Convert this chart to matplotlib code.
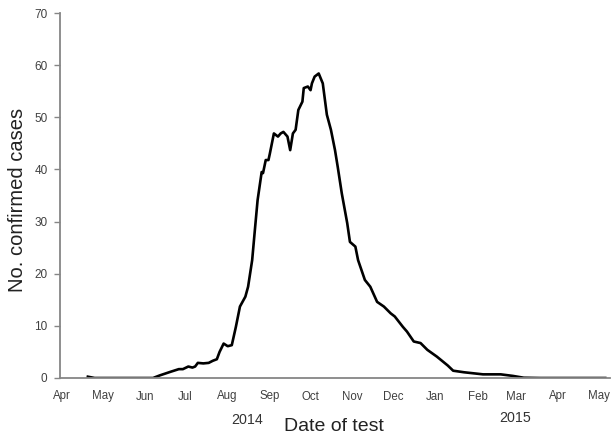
import numpy as np
import pandas as pd
import matplotlib
matplotlib.use("Agg")
import matplotlib.pyplot as plt
import matplotlib.dates as mdates

plt.rcParams["font.family"] = ["Liberation Sans", "DejaVu Sans"]

# dates of test and smoothed number of confirmed cases
dates = ["2014-04-20", "2014-04-25", "2014-06-07", "2014-06-12", "2014-06-20",
         "2014-06-26", "2014-06-29", "2014-07-03", "2014-07-06", "2014-07-08",
         "2014-07-10", "2014-07-14", "2014-07-18", "2014-07-21", "2014-07-24",
         "2014-07-26", "2014-07-29", "2014-08-01", "2014-08-04", "2014-08-07",
         "2014-08-08", "2014-08-10", "2014-08-14", "2014-08-16", "2014-08-19",
         "2014-08-21", "2014-08-23", "2014-08-26", "2014-08-27", "2014-08-29",
         "2014-08-31", "2014-09-01", "2014-09-04", "2014-09-07", "2014-09-09",
         "2014-09-11", "2014-09-14", "2014-09-16", "2014-09-18", "2014-09-20",
         "2014-09-22", "2014-09-25", "2014-09-26", "2014-09-29", "2014-10-01",
         "2014-10-02", "2014-10-04", "2014-10-07", "2014-10-10", "2014-10-13",
         "2014-10-16", "2014-10-19", "2014-10-21", "2014-10-24", "2014-10-28",
         "2014-10-30", "2014-11-03", "2014-11-05", "2014-11-10", "2014-11-14",
         "2014-11-19", "2014-11-24", "2014-11-29", "2014-12-02", "2014-12-08",
         "2014-12-11", "2014-12-16", "2014-12-21", "2014-12-26", "2015-01-02",
         "2015-01-10", "2015-01-14", "2015-01-22", "2015-01-29", "2015-02-05",
         "2015-02-18", "2015-02-27", "2015-03-07", "2015-03-19", "2015-05-06"]
cases = [0.25, 0.0, 0.0, 0.5, 1.2,
         1.7, 1.7, 2.2, 2.0, 2.2,
         2.9, 2.8, 2.9, 3.3, 3.6,
         5.0, 6.6, 6.1, 6.3, 9.8,
         11.1, 13.7, 15.6, 17.5, 22.6,
         28.4, 34.1, 39.5, 39.3, 41.8,
         41.8, 43.0, 46.9, 46.3, 46.9,
         47.2, 46.3, 43.7, 46.9, 47.6,
         51.4, 53.0, 55.6, 55.9, 55.2,
         56.5, 57.8, 58.4, 56.5, 50.5,
         47.6, 43.7, 40.5, 35.4, 29.7,
         26.1, 25.2, 22.6, 18.8, 17.5,
         14.6, 13.7, 12.4, 11.8, 9.8,
         8.9, 7.0, 6.7, 5.4, 4.1,
         2.4, 1.4, 1.1, 0.9, 0.7,
         0.7, 0.4, 0.05, 0.0, 0.0]
month_ticks = pd.date_range("2014-04-01", "2015-05-01", freq="MS")
years = ["2014", "2015"]

x = pd.to_datetime(dates)

fig = plt.figure(figsize=(6.11, 4.37), dpi=100)
ax = fig.add_axes([60 / 611, 1 - 378 / 437, 550 / 611, 365 / 437])

ax.plot(x, cases, color="black", lw=1.9, solid_joinstyle="round")

start = pd.Timestamp("2014-04-01") - pd.Timedelta(days=1.5)
end = pd.Timestamp("2014-04-01") + pd.Timedelta(days=403.5)
ax.set_xlim(start, end)
ax.set_ylim(0, 70)
ax.set_yticks(range(0, 71, 10))
ax.set_xticks(month_ticks)
ax.xaxis.set_major_formatter(mdates.DateFormatter("%b"))

gray = "#868686"
for s in ["top", "right"]:
    ax.spines[s].set_visible(False)
for s in ["left", "bottom"]:
    ax.spines[s].set_color(gray)
    ax.spines[s].set_linewidth(1.3)
ax.tick_params(axis="y", length=4, width=1, color=gray, labelsize=8.5,
               labelcolor="#404040", pad=5)
ax.tick_params(axis="x", length=0, labelsize=8.3, labelcolor="#404040", pad=9)

fig.text(18 / 611, 1 - 200 / 437, "No. confirmed cases", rotation=90,
         ha="center", va="center", fontsize=14.5, color="#222222")
fig.text(247 / 611, 1 - 420 / 437, years[0], ha="center", va="center",
         fontsize=10.3, color="#333333")
fig.text(515 / 611, 1 - 418 / 437, years[1], ha="center", va="center",
         fontsize=10.3, color="#333333")
# sits at the very bottom edge, as in the original
fig.text(334 / 611, 2 / 437, "Date of test", ha="center", va="bottom",
         fontsize=14, color="#222222")

fig.savefig("out.png", dpi=100)
